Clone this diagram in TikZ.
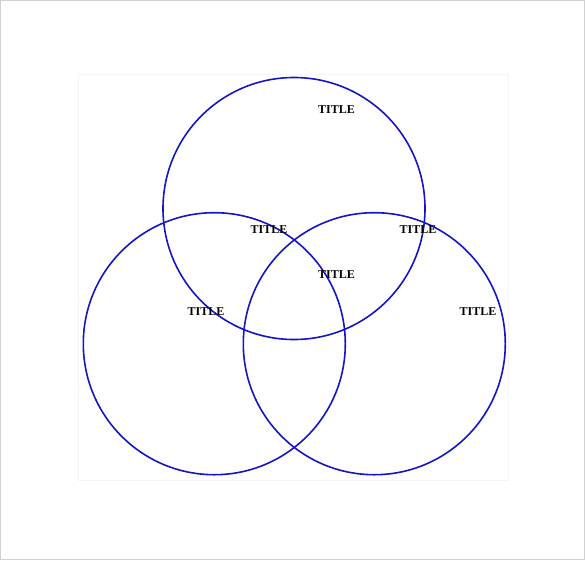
\documentclass[tikz,border=0pt]{standalone}
\usepackage{fontspec}
\setmainfont{Liberation Serif}
\usepackage{tikz}
\usetikzlibrary{positioning}
\definecolor{ringblue}{RGB}{20,20,200}

\begin{document}
\begin{tikzpicture}[x=1pt, y=-1pt,
    ring/.style={draw=ringblue, line width=1.6pt, circle, minimum size=262pt, inner sep=0pt},
    title/.style={font=\fontsize{12}{14}\selectfont\bfseries, inner sep=0pt}]
    \useasboundingbox (0,0) rectangle (585,560);
    % Frames
    \draw [black!18, line width=1pt] (0.5,0.5) rectangle (584.5,559.5);
    \draw [black!4, line width=0.8pt] (78,74) rectangle (508,480);

    % Circles
    \node [ring] (top) at (294,208.5) {};
    \node [ring] (left) at (214.3,343.7) {};
    \node [ring] (right) at (374.3,343.7) {};

    % Labels
    \node [title] (ttop) at (336.5,110) {TITLE};
    \node [title] (tleft) at (206,312) {TITLE};
    \node [title] (tright) at (478,312) {TITLE};
    \node [title] (tlt) at (269,230) {TITLE};
    \node [title] (trt) at (418,230) {TITLE};
    \node [title] (tmid) at (336.5,275) {TITLE};
\end{tikzpicture}
\end{document}
